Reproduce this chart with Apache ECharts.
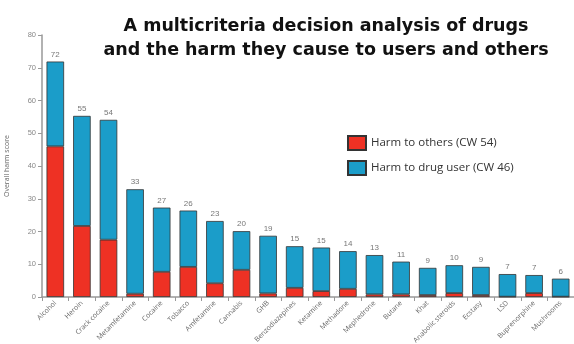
<!DOCTYPE html>
<html>
<head>
<meta charset="utf-8">
<script src="https://cdn.jsdelivr.net/npm/echarts@6/dist/echarts.min.js"></script>
<style>
  html, body { margin: 0; padding: 0; background: #fff; }
  #chart { width: 574px; height: 344px; }
</style>
</head>
<body>
<div id="chart"></div>
<script>
  // drugs, in the order of the picture
  var drugs = ['Alcohol', 'Heroin', 'Crack cocaine', 'Metamfetamine', 'Cocaine', 'Tobacco',
    'Amfetamine', 'Cannabis', 'GHB', 'Benzodiazepines', 'Ketamine', 'Methadone', 'Mephedrone',
    'Butane', 'Khat', 'Anabolic steroids', 'Ecstasy', 'LSD', 'Buprenorphine', 'Mushrooms']
  // harm to others (red part)
  var harmOthers = [46, 21.7, 17.5, 1, 7.7, 9.2, 4.2, 8.3, 1.1, 2.8, 1.8, 2.5, 0.8, 0.8, 0.6, 1.2, 0.6, 0.1, 1.2, 0.1]
  // harm to drug user (blue part)
  var harmUsers = [25.9, 33.6, 36.6, 31.9, 19.6, 17.2, 19, 11.8, 17.6, 12.7, 13.3, 11.5, 12, 10, 8.3, 8.5, 8.6, 6.9, 5.5, 5.5]
  // totals written above the bars
  var totalLabels = ['72', '55', '54', '33', '27', '26', '23', '20', '19', '15', '15', '14', '13', '11', '9', '10', '9', '7', '7', '6']

  var chart = echarts.init(document.getElementById('chart'))
  chart.setOption({
    animation: false,
    title: {
      text: 'A multicriteria decision analysis of drugs\nand the harm they cause to users and others',
      left: 321,
      top: 9,
      textAlign: 'center',
      textStyle: {
        fontFamily: 'DejaVu Sans',
        fontWeight: 'bold',
        fontSize: 17.5,
        lineHeight: 24,
        color: '#111'
      }
    },
    legend: {
      orient: 'vertical',
      left: 342,
      top: 130,
      icon: 'rect',
      itemWidth: 18,
      itemHeight: 14,
      itemGap: 9,
      data: ['Harm to others (CW 54)', 'Harm to drug user (CW 46)'],
      textStyle: { fontFamily: 'Open Sans', fontSize: 11.5, color: '#333' }
    },
    grid: { left: 42, right: 0, top: 35, bottom: 47, outerBoundsMode: 'none' },
    xAxis: {
      type: 'category',
      data: drugs,
      axisLine: { lineStyle: { color: '#999', width: 1.5 } },
      axisTick: { show: true, length: 4, lineStyle: { color: '#999' } },
      axisLabel: {
        rotate: 45,
        interval: 0,
        fontSize: 7,
        color: '#666',
        fontFamily: 'Open Sans',
        margin: 5
      }
    },
    yAxis: {
      type: 'value',
      min: 0,
      max: 80,
      interval: 10,
      name: 'Overall harm score',
      nameLocation: 'middle',
      nameGap: 32,
      nameTextStyle: { fontSize: 7, color: '#666', fontFamily: 'Open Sans' },
      axisLine: { show: true, lineStyle: { color: '#999', width: 1.5 } },
      axisTick: { show: true, length: 4, lineStyle: { color: '#999' } },
      axisLabel: { fontSize: 7.5, color: '#888', margin: 6 },
      splitLine: { show: false }
    },
    series: [
      {
        name: 'Harm to others (CW 54)',
        type: 'bar',
        stack: 'harm',
        barWidth: '66%',
        itemStyle: { color: '#ee3124', borderColor: '#333', borderWidth: 0.8 },
        data: harmOthers
      },
      {
        name: 'Harm to drug user (CW 46)',
        type: 'bar',
        stack: 'harm',
        itemStyle: { color: '#1b9dc9', borderColor: '#333', borderWidth: 0.8 },
        label: {
          show: true,
          position: 'top',
          distance: 3,
          fontSize: 8,
          color: '#777',
          formatter: function (p) { return totalLabels[p.dataIndex] }
        },
        data: harmUsers
      }
    ]
  })
</script>
</body>
</html>
